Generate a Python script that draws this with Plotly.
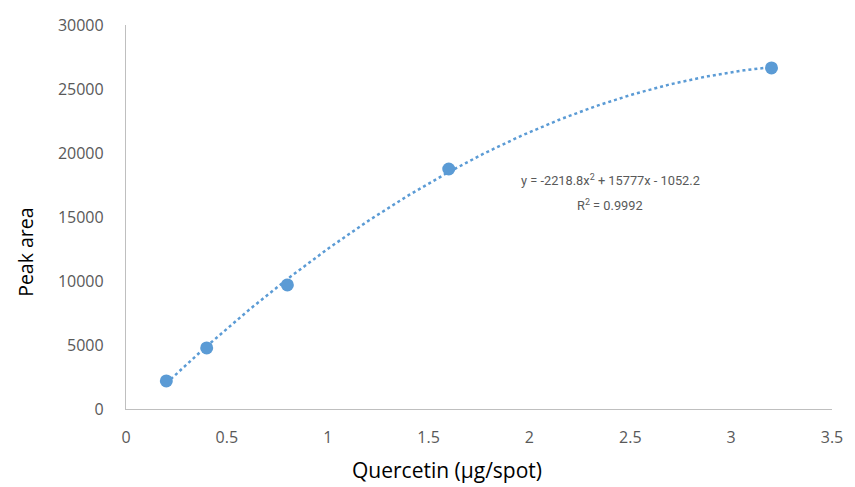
import numpy as np
import plotly.graph_objects as go

concentration = [0.2, 0.4, 0.8, 1.6, 3.2]
peak_area = [2190, 4770, 9690, 18750, 26650]
# trendline coefficients as printed on the chart (a*x^2 + b*x + c)
trend_coeffs = [-2218.8, 15777, -1052.2]
equation_text = "y = -2218.8x<sup>2</sup> + 15777x - 1052.2"
r2_text = "R<sup>2</sup> = 0.9992"

x_ticks = [0, 0.5, 1, 1.5, 2, 2.5, 3, 3.5]
x_labels = ["0", "0.5", "1", "1.5", "2", "2.5", "3", "3.5"]
y_ticks = [0, 5000, 10000, 15000, 20000, 25000, 30000]
y_labels = ["0", "5000", "10000", "15000", "20000", "25000", "30000"]
x_title = "Quercetin (µg/spot)"
y_title = "Peak area"

color = "#5B9BD5"
xs = np.linspace(min(concentration), max(concentration), 200)
ys = np.polyval(trend_coeffs, xs)

fig = go.Figure()
fig.add_trace(go.Scatter(x=xs, y=ys, mode="lines",
                         line=dict(color=color, width=2.5, dash="dot"),
                         hoverinfo="skip", showlegend=False))
fig.add_trace(go.Scatter(x=concentration, y=peak_area, mode="markers",
                         marker=dict(color=color, size=13),
                         showlegend=False))

ann_font = dict(family="Roboto, sans-serif", size=12.8, color="#595959")
fig.add_annotation(x=2.40, y=17900, xref="x", yref="y", text=equation_text,
                   showarrow=False, font=ann_font, xanchor="center", yanchor="middle")
fig.add_annotation(x=2.40, y=15950, xref="x", yref="y", text=r2_text,
                   showarrow=False, font=ann_font, xanchor="center", yanchor="middle")

# axis titles placed as in the reference (pixel centres converted below)
fig.add_annotation(x=450, y=470, xref="paper", yref="paper", text=x_title,
                   xanchor="center", yanchor="middle",
                   showarrow=False, font=dict(family="Open Sans, sans-serif", size=21, color="black"))
fig.add_annotation(x=25, y=252, xref="paper", yref="paper", text=y_title, textangle=-90,
                   xanchor="center", yanchor="middle",
                   showarrow=False, font=dict(family="Open Sans, sans-serif", size=19.5, color="black"))

fig.update_layout(
    width=855, height=487,
    margin=dict(l=126, r=17, t=25, b=78),
    paper_bgcolor="white", plot_bgcolor="white",
    font=dict(family="Open Sans, sans-serif", color="#595959"),
    xaxis=dict(range=[0, 3.5], tickvals=x_ticks, ticktext=x_labels,
               showgrid=False, zeroline=False, showline=True,
               linecolor="#BFBFBF", linewidth=1.3, ticks="",
               ticklabelstandoff=14,
               tickfont=dict(size=16, color="#595959")),
    yaxis=dict(range=[0, 30000], tickvals=y_ticks, ticktext=y_labels,
               showgrid=False, zeroline=False, showline=True,
               linecolor="#BFBFBF", linewidth=1.3, ticks="",
               ticklabelstandoff=18,
               tickfont=dict(size=16, color="#595959")),
)

pw, ph = 855 - 126 - 17, 487 - 25 - 78
for a in fig.layout.annotations[2:]:
    a.x = (a.x - 126) / pw
    a.y = (487 - 78 - a.y) / ph

fig.write_html("out.html")
